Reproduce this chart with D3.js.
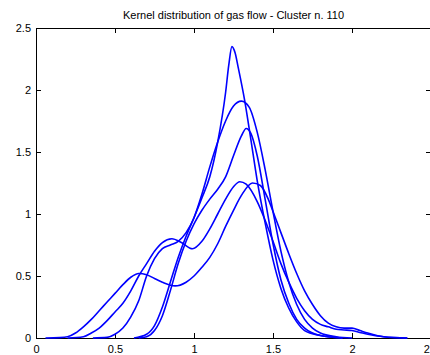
<!DOCTYPE html>
<html>
<head>
<meta charset="utf-8">
<script src="https://cdn.jsdelivr.net/npm/d3@7"></script>
<style>
  body { margin: 0; background: #fff; }
  svg { font-family: "Liberation Sans", Arial, sans-serif; }
</style>
</head>
<body>
<svg id="chart" width="430" height="355"></svg>
<script>
// Title and axis ticks
var title = "Kernel distribution of gas flow - Cluster n. 110";
var xTicks = [0, 0.5, 1, 1.5, 2, 2.5];
var yTicks = [0, 0.5, 1, 1.5, 2, 2.5];

// Density curves, [x, density]
var curve1 = [[0.06,0],[0.15,0.003],[0.2,0.01],[0.25,0.04],[0.3,0.09],[0.35,0.15],[0.4,0.22],[0.45,0.29],[0.5,0.36],[0.55,0.43],[0.6,0.49],[0.65,0.52],[0.7,0.51],[0.75,0.48],[0.8,0.45],[0.88,0.42],[0.95,0.45],[1.0,0.5],[1.05,0.57],[1.1,0.65],[1.15,0.76],[1.2,0.9],[1.25,1.03],[1.3,1.15],[1.37,1.25],[1.42,1.23],[1.47,1.12],[1.5,1.02],[1.55,0.85],[1.6,0.68],[1.65,0.52],[1.7,0.38],[1.75,0.27],[1.8,0.18],[1.85,0.12],[1.9,0.09],[1.95,0.08],[2.0,0.08],[2.05,0.06],[2.1,0.04],[2.2,0.01],[2.35,0]];
var curve2 = [[0.2,0],[0.3,0.01],[0.35,0.04],[0.4,0.08],[0.45,0.14],[0.5,0.21],[0.55,0.28],[0.6,0.38],[0.65,0.5],[0.7,0.6],[0.75,0.7],[0.8,0.77],[0.86,0.8],[0.92,0.77],[0.99,0.72],[1.05,0.78],[1.1,0.88],[1.15,1.0],[1.2,1.12],[1.25,1.22],[1.29,1.26],[1.33,1.24],[1.4,1.1],[1.45,0.95],[1.5,0.78],[1.55,0.6],[1.6,0.45],[1.65,0.32],[1.7,0.22],[1.75,0.15],[1.8,0.11],[1.85,0.09],[1.9,0.07],[1.95,0.065],[2.0,0.06],[2.05,0.045],[2.1,0.03],[2.2,0.01],[2.35,0]];
var curve3 = [[0.36,0],[0.45,0.005],[0.5,0.03],[0.55,0.08],[0.6,0.17],[0.65,0.3],[0.7,0.5],[0.75,0.64],[0.8,0.72],[0.85,0.75],[0.9,0.78],[0.95,0.85],[1.0,0.97],[1.05,1.16],[1.1,1.38],[1.15,1.58],[1.2,1.75],[1.25,1.87],[1.3,1.91],[1.35,1.86],[1.4,1.66],[1.45,1.36],[1.5,1.02],[1.55,0.7],[1.6,0.45],[1.65,0.27],[1.7,0.15],[1.75,0.08],[1.8,0.04],[1.9,0.01],[2.0,0]];
var curve4 = [[0.62,0],[0.7,0.03],[0.75,0.1],[0.8,0.25],[0.85,0.45],[0.9,0.65],[0.95,0.82],[1.0,0.97],[1.05,1.13],[1.1,1.3],[1.15,1.58],[1.2,1.98],[1.22,2.2],[1.24,2.35],[1.26,2.3],[1.28,2.18],[1.32,1.92],[1.36,1.6],[1.4,1.27],[1.45,0.93],[1.5,0.63],[1.55,0.4],[1.6,0.24],[1.65,0.13],[1.7,0.06],[1.8,0.02],[1.94,0]];
var curve5 = [[0.65,0],[0.7,0.01],[0.75,0.06],[0.8,0.18],[0.85,0.38],[0.9,0.6],[0.95,0.78],[1.0,0.92],[1.05,1.03],[1.1,1.12],[1.15,1.2],[1.2,1.3],[1.25,1.47],[1.3,1.63],[1.33,1.69],[1.36,1.65],[1.4,1.47],[1.45,1.12],[1.5,0.76],[1.55,0.47],[1.6,0.28],[1.65,0.15],[1.7,0.08],[1.8,0.02],[1.94,0]];

var curves = [curve1, curve2, curve3, curve4, curve5];

var svg = d3.select("#chart");

// plot box (right edge runs just past the window)
var boxLeft = 36, boxTop = 28, boxRight = 431, boxBottom = 338;

var xScale = d3.scaleLinear().domain([0, 2.5]).range([boxLeft, boxRight]);
var yScale = d3.scaleLinear().domain([0, 2.5]).range([boxBottom, boxTop]);

// ticks point inward, MATLAB style
svg.append("g")
  .attr("transform", "translate(0," + boxBottom + ")")
  .call(d3.axisBottom(xScale).tickValues(xTicks).tickSize(-5).tickPadding(7).tickFormat(d3.format("")));

svg.append("g")
  .attr("transform", "translate(0," + boxTop + ")")
  .call(d3.axisTop(xScale).tickValues(xTicks).tickSize(-5).tickFormat(""));

svg.append("g")
  .attr("transform", "translate(" + boxLeft + ",0)")
  .call(d3.axisLeft(yScale).tickValues(yTicks).tickSize(-5).tickPadding(5).tickFormat(d3.format("")));

svg.append("g")
  .attr("transform", "translate(" + boxRight + ",0)")
  .call(d3.axisRight(yScale).tickValues(yTicks).tickSize(-5).tickFormat(""));

svg.selectAll(".domain, .tick line")
  .attr("stroke", "#000")
  .attr("shape-rendering", "crispEdges");
svg.selectAll(".tick text")
  .attr("fill", "#000")
  .style("font-size", "11px");

// kernel density lines
var line = d3.line()
  .x((d) => xScale(d[0]))
  .y((d) => yScale(d[1]))
  .curve(d3.curveMonotoneX);

svg.append("g")
  .selectAll("path")
  .data(curves)
  .enter()
  .append("path")
  .attr("d", line)
  .attr("fill", "none")
  .attr("stroke", "#0000ff")
  .attr("stroke-width", 1.6);

// title
svg.append("text")
  .attr("x", (boxLeft + boxRight) / 2)
  .attr("y", 19)
  .attr("text-anchor", "middle")
  .style("font-size", "11px")
  .attr("fill", "#000")
  .text(title);
</script>
</body>
</html>
